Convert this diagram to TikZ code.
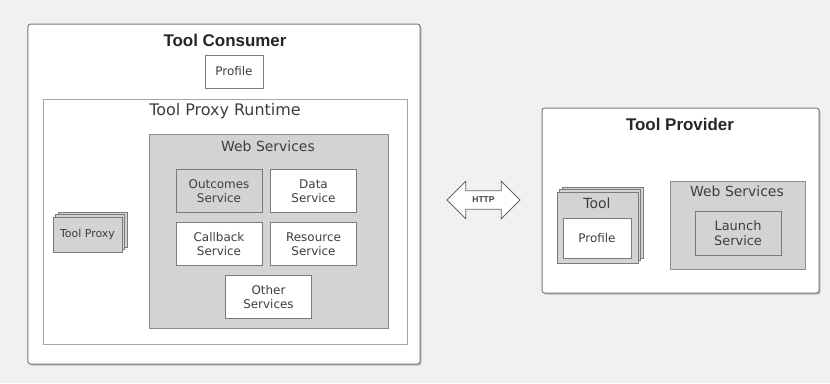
\documentclass[tikz,border=0pt]{standalone}
\usepackage{fontspec}
\setmainfont{DejaVu Sans}
\newfontfamily\headfont{Liberation Sans}
\usetikzlibrary{shadows,shapes.arrows}
\definecolor{bggray}{HTML}{F1F1F1}
\definecolor{boxgray}{HTML}{D3D3D3}
\definecolor{linegray}{HTML}{7A7A7A}
\definecolor{txtgray}{HTML}{3E3E3E}
\tikzset{
outerbox/.style={draw=linegray, line width=1bp, fill=white, rounded corners=2.5bp,
  drop shadow={shadow xshift=1.5bp, shadow yshift=-1.5bp, opacity=.45}},
framebox/.style={draw=black!35, line width=.8bp, fill=white},
wsbox/.style={draw=black!45, line width=.8bp, fill=boxgray},
svcbox/.style={draw=linegray, line width=.8bp, align=center, text=txtgray, inner sep=0pt,
  font=\fontsize{12}{14}\selectfont,
  drop shadow={shadow xshift=.8bp, shadow yshift=-.8bp, opacity=.3}},
stackbox/.style={draw=linegray, line width=.8bp, fill=boxgray, text=txtgray, inner sep=0pt,
  double copy shadow={shadow xshift=2.5bp, shadow yshift=2.5bp, fill=boxgray, draw=linegray, line width=.8bp}},
headtxt/.style={font=\headfont\bfseries\fontsize{17}{20}\selectfont, text=black!85},
subtxt/.style={font=\fontsize{14}{16}\selectfont, text=txtgray},
}
\begin{document}
\begin{tikzpicture}[x=1bp, y=-1bp]
\fill[bggray] (0,0) rectangle (830,383);
\useasboundingbox (0,0) rectangle (830,383);
% the consumer side
\node[outerbox, minimum width=392bp, minimum height=340bp] (consumer) at (224,194) {};
\node[headtxt] (consumerT) at (225,40) {Tool Consumer};
\node[svcbox, fill=white, minimum width=58bp, minimum height=33bp] (cprofile) at (234,71.5) {Profile};
\node[framebox, minimum width=364bp, minimum height=245bp] (runtime) at (225,221.5) {};
\node[subtxt, font=\fontsize{16}{18}\selectfont] (runtimeT) at (225,111) {Tool Proxy Runtime};
\node[wsbox, minimum width=239bp, minimum height=194bp] (cws) at (268.5,231) {};
\node[subtxt] (cwsT) at (268,146) {Web Services};
\foreach \n/\x/\y/\f/\t in {outcomes/219/191/boxgray/{Outcomes\\Service},
  data/313.5/191/white/{Data\\Service}, callback/219/244/white/{Callback\\Service},
  resource/313.5/244/white/{Resource\\Service}, other/268.5/297/white/{Other\\Services}}
  \node[svcbox, fill=\f, minimum width=86bp, minimum height=43bp] (\n) at (\x,\y) {\t};
\node[stackbox, minimum width=69bp, minimum height=35bp, font=\fontsize{11}{13}\selectfont] (proxy) at (87.5,234.5) {Tool Proxy};
% the link
\node[double arrow, draw=black!60, line width=.8bp, fill=white, minimum height=73bp,
  double arrow head extend=9.5bp, inner xsep=2bp, inner ysep=6bp, text=txtgray,
  font=\headfont\bfseries\fontsize{8.5}{9}\selectfont] (http) at (483.5,200) {HTTP};
% the provider side
\node[outerbox, minimum width=277bp, minimum height=185bp] (provider) at (680.5,200.5) {};
\node[headtxt] (providerT) at (680,124) {Tool Provider};
\node[stackbox, minimum width=81bp, minimum height=71bp] (tool) at (597.5,227.5) {};
\node[subtxt] (toolT) at (597,203) {Tool};
\node[svcbox, fill=white, minimum width=68bp, minimum height=40bp] (pprofile) at (597,238) {Profile};
\node[wsbox, minimum width=135bp, minimum height=88bp] (pws) at (737.5,225) {};
\node[subtxt] (pwsT) at (737,191) {Web Services};
\node[svcbox, fill=boxgray, minimum width=86bp, minimum height=44bp, font=\fontsize{13}{15}\selectfont] (launch) at (738,233) {Launch\\Service};
\end{tikzpicture}
\end{document}
